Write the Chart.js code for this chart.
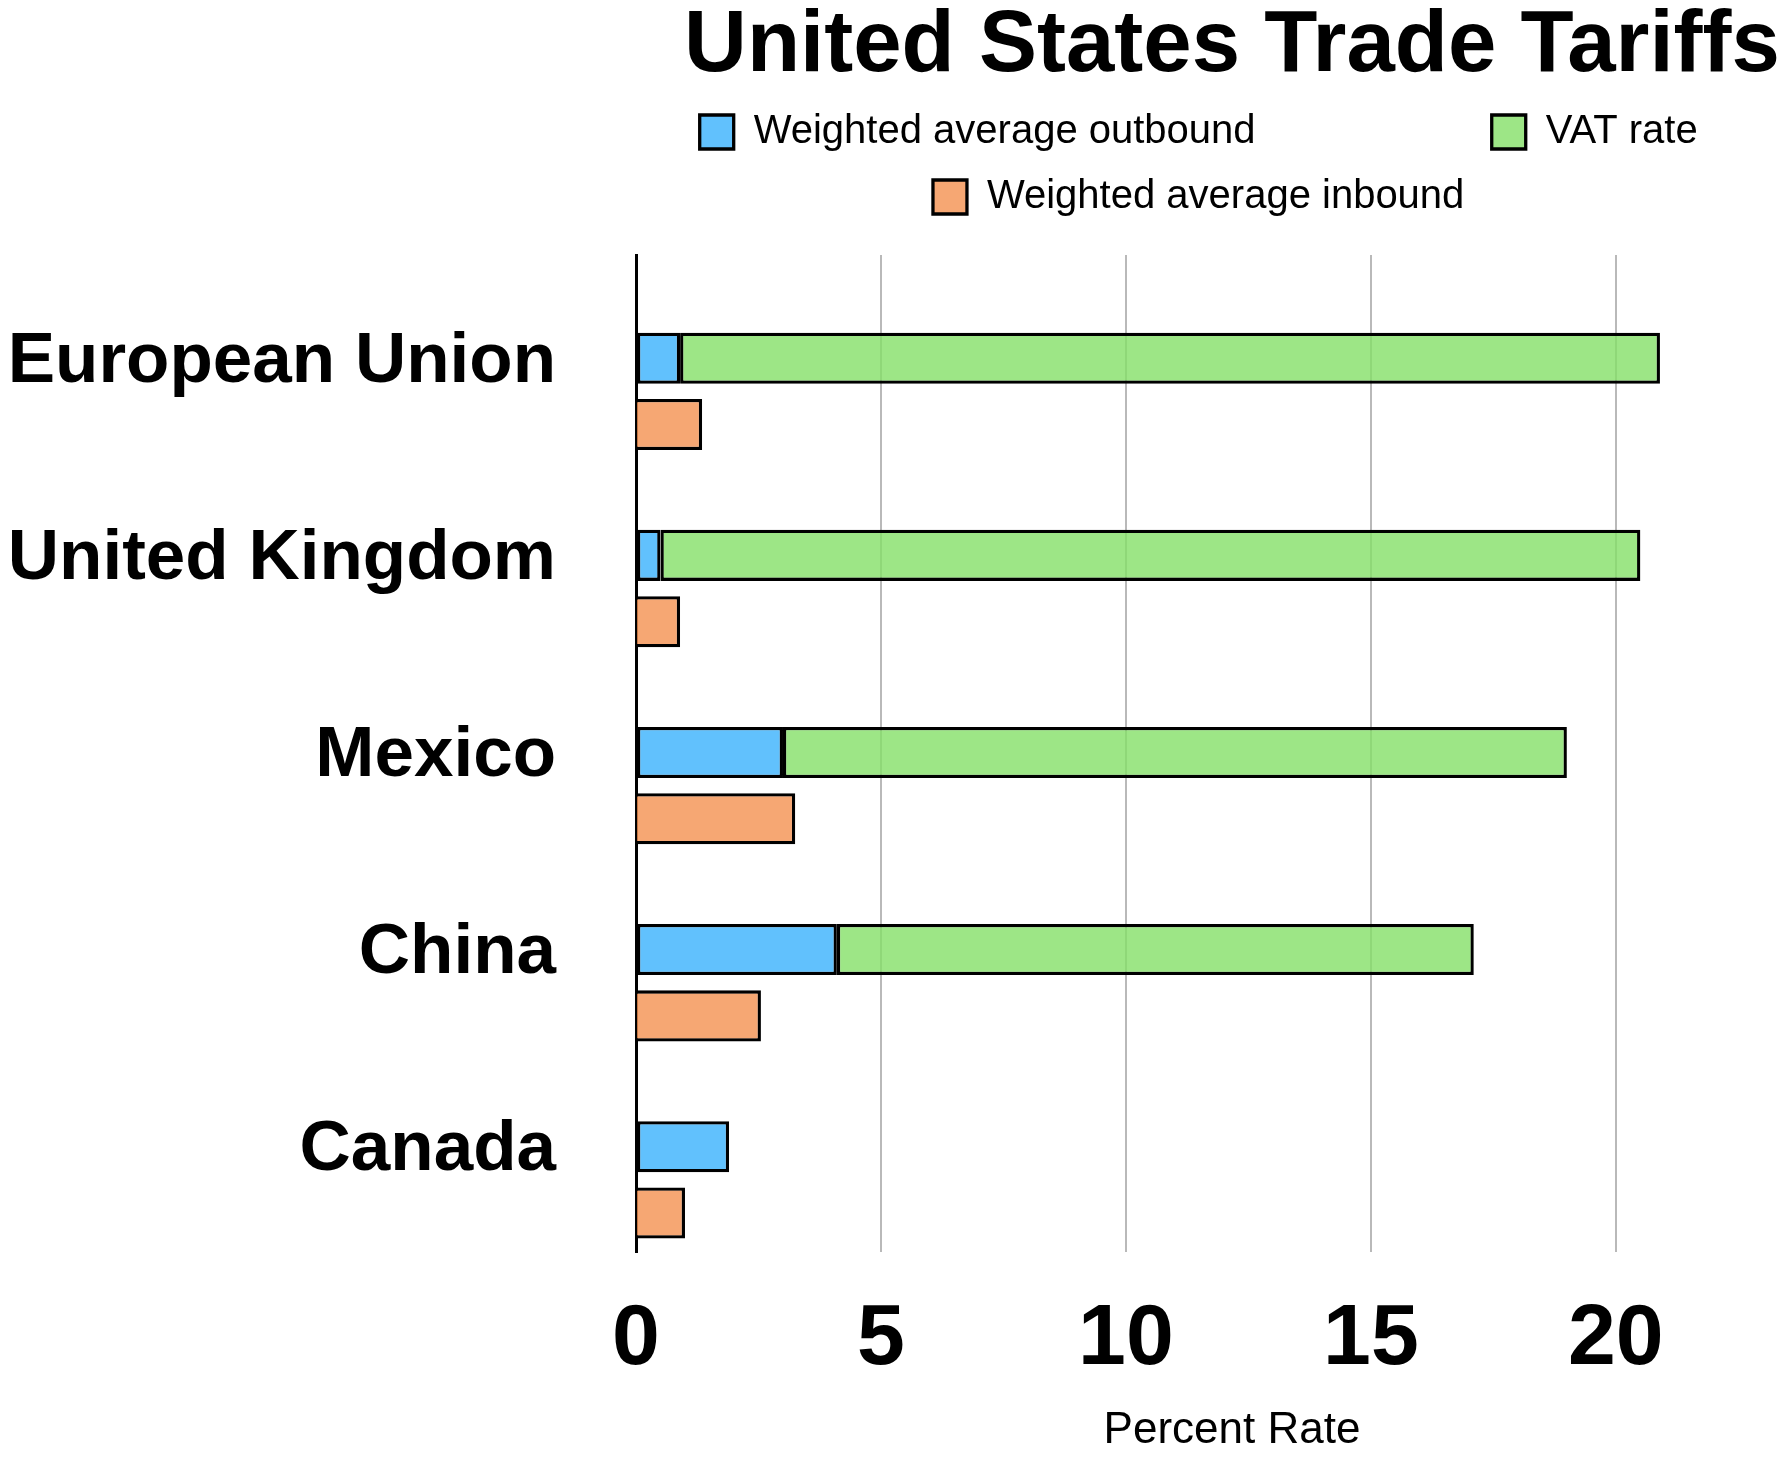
<!DOCTYPE html>
<html>
<head>
<meta charset="utf-8">
<title>United States Trade Tariffs</title>
<script src="https://cdn.jsdelivr.net/npm/chart.js@4.4.1/dist/chart.umd.min.js"></script>
<style>
    html, body { margin: 0; padding: 0; overflow: hidden; background: #fff; }
    canvas { display: block; }
</style>
</head>
<body>
<canvas id="chart-area" width="1828" height="1457"></canvas>
<script>
var countries = ['European Union', 'United Kingdom', 'Mexico', 'China', 'Canada'];
var outbound = [0.9, 0.5, 3.0, 4.1, 1.9];
var vatRate = [20, 20, 16, 13, null];
var inbound = [1.35, 0.9, 3.25, 2.55, 1.0];
var xTicks = [0, 5, 10, 15, 20];

// trailing spaces per legend item, spreads the rows like the original
var legendGap = [19, 6, 6];

Chart.defaults.font.family = "'Liberation Sans', Arial, Helvetica, sans-serif";
Chart.defaults.color = '#000';

function points(values) {
    return values.map(function (v, i) {
        return {x: v, y: i};
    });
}

var config = {
    type: 'bar',
    data: {
        datasets: [{
            label: 'Weighted average outbound',
            data: points(outbound),
            stack: 'a',
            backgroundColor: 'rgba(58, 178, 253, 0.8)',
            borderSkipped: false
        }, {
            label: 'VAT rate',
            data: points(vatRate),
            stack: 'a',
            backgroundColor: 'rgba(133, 224, 104, 0.8)',
            borderSkipped: false
        }, {
            label: 'Weighted average inbound',
            data: points(inbound),
            stack: 'b',
            backgroundColor: 'rgba(244, 145, 80, 0.8)'
        }]
    },
    options: {
        indexAxis: 'y',
        responsive: false,
        animation: false,
        layout: {padding: 0},
        datasets: {
            bar: {
                borderColor: '#000',
                borderWidth: 3.3,
                inflateAmount: 0,
                categoryPercentage: 0.673,
                barPercentage: 0.77
            }
        },
        scales: {
            x: {
                type: 'linear',
                stacked: true,
                min: 0,
                max: 24.33,
                afterBuildTicks: function (scale) {
                    scale.ticks = xTicks.map(function (v) { return {value: v}; });
                },
                afterFit: function (scale) {
                    scale.height = 205;
                },
                grid: {color: '#b9b9b9', lineWidth: 2, drawTicks: false},
                border: {display: false},
                ticks: {padding: 37, font: {size: 86, weight: 'bold'}},
                title: {
                    display: true,
                    text: 'Percent Rate',
                    font: {size: 44},
                    padding: {top: 0, bottom: 0}
                }
            },
            y: {
                type: 'linear',
                reverse: true,
                offset: false,
                min: -0.692,
                max: 4.366,
                afterBuildTicks: function (scale) {
                    scale.ticks = countries.map(function (c, i) { return {value: i}; });
                },
                afterFit: function (scale) {
                    scale.width = 636;
                },
                grid: {display: false, drawTicks: false, offset: false},
                border: {display: true, color: '#000', width: 3},
                ticks: {
                    padding: 80,
                    labelOffset: -29,
                    font: {size: 71, weight: 'bold'},
                    callback: function (value) {
                        return countries[value];
                    }
                }
            }
        },
        plugins: {
            title: {
                display: true,
                text: 'United States Trade Tariffs',
                fullSize: false,
                font: {size: 87, weight: 'bold', lineHeight: '79px'},
                padding: {top: 8, bottom: 0}
            },
            legend: {
                position: 'top',
                fullSize: false,
                labels: {
                    boxWidth: 34,
                    boxHeight: 34,
                    padding: 25,
                    font: {size: 40},
                    generateLabels: function (chart) {
                        var items = Chart.defaults.plugins.legend.labels.generateLabels(chart);
                        items.forEach(function (item, i) {
                            item.text = item.text + ' '.repeat(legendGap[i]);
                        });
                        return items;
                    }
                }
            },
            subtitle: {
                // empty spacer between legend and plot
                display: true,
                text: ' ',
                weight: 500,
                font: {size: 28, lineHeight: 1},
                padding: 0
            },
            tooltip: {enabled: false}
        }
    }
};

window.onload = function () {
    var ctx = document.getElementById('chart-area').getContext('2d');
    window.myBar = new Chart(ctx, config);
};
</script>
</body>
</html>
